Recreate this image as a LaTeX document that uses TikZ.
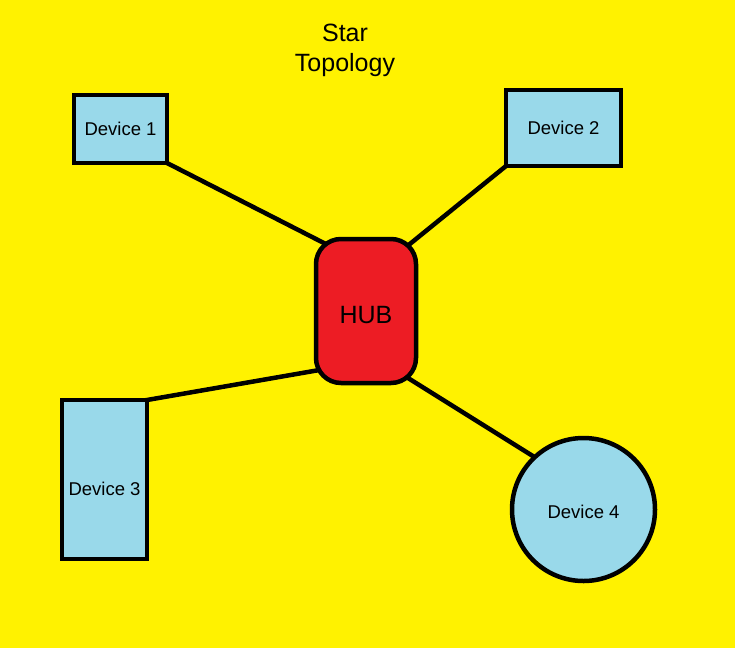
\documentclass[tikz,border=0pt]{standalone}
\usepackage{fontspec}
\setmainfont{Liberation Sans}
\usepackage{tikz}
\pgfdeclarelayer{background}
\pgfsetlayers{background,main}

\definecolor{paintyellow}{HTML}{FFF200}
\definecolor{paintblue}{HTML}{99D9EA}
\definecolor{paintred}{HTML}{ED1C24}

\begin{document}
\begin{tikzpicture}[x=1pt, y=-1pt,
  device/.style = {draw, line width=4.5pt, fill=paintblue, inner sep=0pt, outer sep=0pt,
                   font=\fontsize{18.5}{20}\selectfont},
  hubbox/.style = {draw, line width=4.5pt, fill=paintred, rounded corners=25pt, inner sep=0pt,
                   outer sep=0pt, minimum width=100pt, minimum height=144pt,
                   font=\fontsize{25}{28}\selectfont},
  link/.style = {line width=4.5pt, shorten <=-6pt, shorten >=-16pt}]
  \useasboundingbox (0,0) rectangle (735,648);
  \node [align=center, font=\fontsize{25}{30}\selectfont] (title) at (345,50) {Star\\Topology};
  \node [hubbox, text height=26pt] (hub) at (366,311) {HUB};
  \node [device, minimum width=93pt, minimum height=68pt] (dev1) at (120.5,129) {Device 1};
  \node [device, minimum width=115pt, minimum height=76pt] (dev2) at (563.5,128) {Device 2};
  \node [device, minimum width=85pt, minimum height=159pt, text height=33pt] (dev3) at (104.5,479.5) {Device 3};
  \node [device, circle, minimum size=143pt, text height=19pt] (dev4) at (583.5,509.5) {Device 4};
  \begin{pgfonlayer}{background}
    \fill[paintyellow] (0,0) rectangle (735,648);
    \foreach \a/\b in {dev1.south east/hub.north west, dev2.south west/hub.north east,
                       dev3.north east/hub.230, dev4.133/hub.south east}
      {\draw[link] (\a) -- (\b);}
  \end{pgfonlayer}
\end{tikzpicture}
\end{document}
